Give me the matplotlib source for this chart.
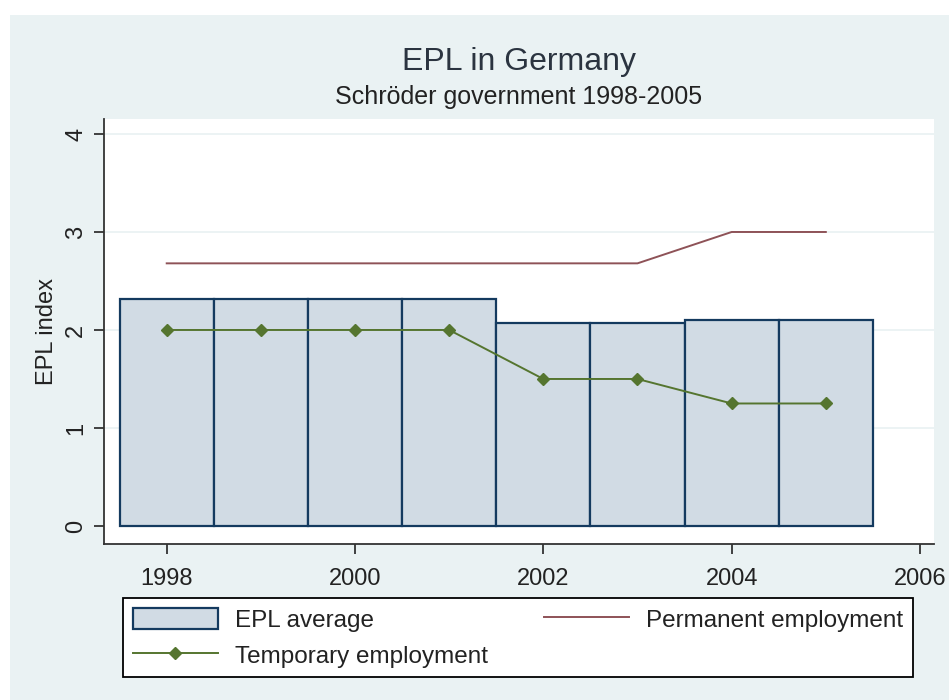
import matplotlib
matplotlib.use("Agg")
import matplotlib.pyplot as plt
from matplotlib.patches import Rectangle, Patch
from matplotlib.lines import Line2D

years = [1998, 1999, 2000, 2001, 2002, 2003, 2004, 2005]
epl_average = [2.32, 2.32, 2.32, 2.32, 2.07, 2.07, 2.10, 2.10]
permanent = [2.68, 2.68, 2.68, 2.68, 2.68, 2.68, 3.0, 3.0]
temporary = [2.0, 2.0, 2.0, 2.0, 1.5, 1.5, 1.25, 1.25]
x_ticks = [1998, 2000, 2002, 2004, 2006]
y_ticks = [0, 1, 2, 3, 4]

title = "EPL in Germany"
subtitle = "Schröder government 1998-2005"
ylabel = "EPL index"
labels = ["EPL average", "Permanent employment", "Temporary employment"]

BG = "#EAF2F3"
BAR_FILL = "#D1DBE4"
BAR_EDGE = "#143a5f"
PERM = "#8e5257"
TEMP = "#55752f"
TXT = "#222222"

plt.rcParams["font.family"] = ["Liberation Sans", "DejaVu Sans"]

W, H = 949, 700
fig = plt.figure(figsize=(W / 100, H / 100), dpi=100, facecolor="white")
fig.patches.append(Rectangle((10 / W, 0), 1 - 10 / W, 1 - 15 / H,
                             transform=fig.transFigure, facecolor=BG,
                             edgecolor="none", zorder=-5))

L, R, T, B = 104, 934, 119, 544
ax = fig.add_axes([L / W, 1 - B / H, (R - L) / W, (B - T) / H])
ax.set_zorder(1)
ax.set_facecolor("white")

ax.set_xlim(1997.334, 2006.149)
ax.set_ylim(-0.184, 4.153)

for yv in y_ticks[1:]:
    ax.axhline(yv, color=BG, lw=1.3, zorder=0.5)

ax.bar(years, epl_average, width=1.0, color=BAR_FILL, edgecolor=BAR_EDGE,
       linewidth=1.6, zorder=2)
ax.plot(years, permanent, color=PERM, lw=1.4, zorder=3)
ax.plot(years, temporary, color=TEMP, lw=1.4, marker="D", ms=6.5,
        markeredgecolor=TEMP, markerfacecolor=TEMP, zorder=4)

for s in ["top", "right"]:
    ax.spines[s].set_visible(False)
for s in ["left", "bottom"]:
    ax.spines[s].set_color("#333333")
    ax.spines[s].set_linewidth(1.3)

ax.set_xticks(x_ticks)
ax.set_xticklabels([str(v) for v in x_ticks])
ax.set_yticks(y_ticks)
ax.set_yticklabels([str(v) for v in y_ticks], rotation=90, va="center")
ax.tick_params(axis="both", direction="out", length=7, width=1.3,
               color="#333333", labelsize=17, labelcolor=TXT)
ax.tick_params(axis="x", pad=10)
ax.tick_params(axis="y", pad=5)

ax.set_ylabel(ylabel, fontsize=17, color=TXT)
ax.yaxis.set_label_coords(-0.055, 0.5)

cx = (L + R) / 2 / W
fig.text(cx, 1 - 70 / H, title, fontsize=23, color="#2b3440",
         ha="center", va="baseline")
fig.text(cx, 1 - 104 / H, subtitle, fontsize=18, color=TXT,
         ha="center", va="baseline")

h_bar = Patch(facecolor=BAR_FILL, edgecolor=BAR_EDGE, linewidth=1.6)
h_perm = Line2D([], [], color=PERM, lw=1.4)
h_temp = Line2D([], [], color=TEMP, lw=1.4, marker="D", ms=6.5,
                markerfacecolor=TEMP, markeredgecolor=TEMP)
leg = fig.legend([h_bar, h_temp, h_perm], [labels[0], labels[2], labels[1]],
                 loc="upper left", bbox_to_anchor=(123 / W, 1 - 598 / H),
                 ncol=2, fontsize=17.5, frameon=True, fancybox=False,
                 edgecolor="black", framealpha=1, facecolor="white",
                 handlelength=3.5, handleheight=0.95, handletextpad=0.7,
                 columnspacing=2.3, borderpad=0.4, labelspacing=0.5,
                 borderaxespad=0)
leg.get_frame().set_linewidth(1.3)
for t in leg.get_texts():
    t.set_color(TXT)

fig.savefig("out.png", dpi=100, facecolor=fig.get_facecolor())
